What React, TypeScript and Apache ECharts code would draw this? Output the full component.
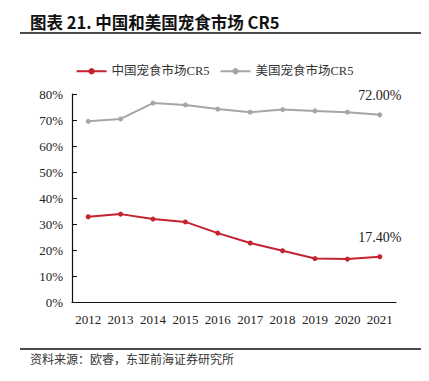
import React, { useEffect, useRef } from "react";
import * as echarts from "echarts";

const years = ["2012", "2013", "2014", "2015", "2016", "2017", "2018", "2019", "2020", "2021"];
const chinaCR5 = [32.8, 33.8, 31.9, 30.8, 26.5, 22.7, 19.7, 16.7, 16.5, 17.4];
const usCR5 = [69.5, 70.4, 76.5, 75.8, 74.2, 73.0, 74.0, 73.5, 73.0, 72.0];
const seriesNames = ["中国宠食市场CR5", "美国宠食市场CR5"];
const titleText = "图表 21. 中国和美国宠食市场 CR5";
const sourceText = "资料来源：欧睿，东亚前海证券研究所";

const serif = "'Liberation Serif', 'Noto Sans CJK SC', serif";

export default function App() {
  const ref = useRef<HTMLDivElement>(null);
  useEffect(() => {
    if (!ref.current) return;
    const chart = echarts.init(ref.current, undefined, { renderer: "svg" });
    const lastLabel = () => ({
      show: true,
      position: "top",
      distance: 10,
      fontFamily: serif,
      fontSize: 14,
      color: "#222",
      formatter: (p: any) => (p.dataIndex === years.length - 1 ? p.value.toFixed(2) + "%" : ""),
    });
    chart.setOption({
      animation: false,
      backgroundColor: "#fff",
      graphic: [
        {
          type: "text",
          left: 30,
          top: 14,
          style: {
            text: titleText,
            font: "bold 16.5px 'Noto Sans CJK SC', sans-serif",
            fill: "#111",
          },
        },
        {
          type: "line",
          shape: { x1: 20, y1: 33, x2: 421, y2: 33 },
          style: { stroke: "#111", lineWidth: 1.5 },
        },
        {
          type: "line",
          shape: { x1: 20, y1: 349, x2: 421, y2: 349 },
          style: { stroke: "#111", lineWidth: 1.5 },
        },
        {
          type: "text",
          left: 30,
          top: 352,
          style: {
            text: sourceText,
            font: "12px 'Noto Sans CJK SC', sans-serif",
            fill: "#333",
          },
        },
      ],
      legend: {
        top: 60,
        left: "center",
        itemWidth: 30,
        itemHeight: 8,
        itemGap: 10,
        textStyle: { fontFamily: serif, fontSize: 12.5, color: "#333" },
        data: seriesNames,
      },
      grid: { left: 72, right: 33, top: 94, bottom: 79 },
      xAxis: {
        type: "category",
        data: years,
        boundaryGap: true,
        axisLine: { lineStyle: { color: "#111", width: 1.2 } },
        axisTick: { show: false },
        axisLabel: { interval: 0, fontFamily: serif, fontSize: 13, color: "#222", margin: 11 },
      },
      yAxis: {
        type: "value",
        min: 0,
        max: 80,
        interval: 10,
        axisLine: { show: true, lineStyle: { color: "#111", width: 1.2 } },
        axisTick: { show: true, inside: true, length: 5, lineStyle: { color: "#111" } },
        splitLine: { show: false },
        axisLabel: { formatter: "{value}%", fontFamily: serif, fontSize: 13, color: "#222", margin: 9 },
      },
      series: [
        {
          name: seriesNames[0],
          type: "line",
          data: chinaCR5,
          color: "#C4222E",
          lineStyle: { width: 2 },
          symbol: "circle",
          symbolSize: 5,
          label: lastLabel(),
        },
        {
          name: seriesNames[1],
          type: "line",
          data: usCR5,
          color: "#A6A6A6",
          lineStyle: { width: 2 },
          symbol: "circle",
          symbolSize: 5,
          label: lastLabel(),
        },
      ],
    });
    return () => chart.dispose();
  }, []);
  return <div ref={ref} style={{ position: "absolute", left: 0, top: 0, width: 429, height: 381 }} />;
}
